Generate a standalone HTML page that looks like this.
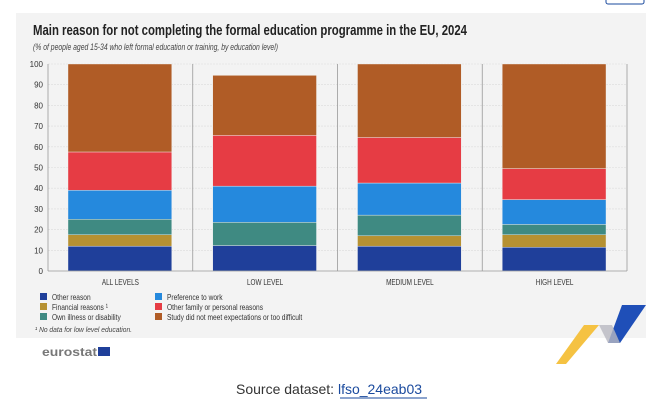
<!DOCTYPE html>
<html><head><meta charset="utf-8"><style>
body{margin:0;background:#fff;width:659px;height:419px;overflow:hidden;font-family:"Liberation Sans",sans-serif}
svg{display:block}
</style></head><body>
<svg id="chart" width="659" height="419" xmlns="http://www.w3.org/2000/svg">
<rect x="606" y="-6" width="38" height="10" rx="2" fill="none" stroke="#1a4a9e" stroke-width="1"/>
<rect x="16" y="13" width="630" height="325" fill="#f3f3f3"/>
<text x="33" y="35" font-size="15" font-weight="bold" fill="#222" textLength="434" lengthAdjust="spacingAndGlyphs">Main reason for not completing the formal education programme in the EU, 2024</text>
<text x="33" y="50" font-size="9" font-style="italic" fill="#444" textLength="245" lengthAdjust="spacingAndGlyphs">(% of people aged 15-34 who left formal education or training, by education level)</text>
<g id="grid"></g><g id="bars"></g><g id="axes"></g><g id="legend"></g>
<text x="35" y="332" font-size="7.5" font-style="italic" fill="#444" textLength="97" lengthAdjust="spacingAndGlyphs">¹ No data for low level education.</text>
<g>
<text x="42" y="356" font-size="12" font-weight="bold" fill="#777" textLength="55" lengthAdjust="spacingAndGlyphs">eurostat</text>
<rect x="98" y="347" width="12" height="9" fill="#1f3f9a"/>
</g>
<g>
<polygon points="622,305 646,305 620,343 608,343" fill="#1f4fb8"/>
<polygon points="599,325 612,325 620,343 608,343" fill="#b8b8c0" opacity="0.8"/>
<polygon points="584,325 599,325 566,364 556,364" fill="#f5c242"/>
</g>
<text x="236" y="394" font-size="14" fill="#333">Source dataset: <tspan fill="#1a4a9e">lfso_24eab03</tspan></text>
<line x1="340" y1="398" x2="427" y2="398" stroke="#1a4a9e" stroke-width="1"/>
</svg>
<script>
const categories=["ALL LEVELS","LOW LEVEL","MEDIUM LEVEL","HIGH LEVEL"];
const seriesNames=["Other reason","Financial reasons ¹","Own illness or disability","Preference to work","Other family or personal reasons","Study did not meet expectations or too difficult"];
const seriesColors=["#1f3f9a","#b69132","#3f8a82","#2589dd","#e63c44","#b05c26"];
const otherReason=[12,12.3,12,11.5];
const financial=[5.5,0,5,6];
const illness=[7.5,11.2,10,5];
const preference=[14,17.5,15.5,12];
const family=[18.5,24.5,22,15];
const study=[42.5,29,35.5,50.5];
const yTicks=[0,10,20,30,40,50,60,70,80,90,100];
const series=[otherReason,financial,illness,preference,family,study];
const NS="http://www.w3.org/2000/svg";
const x0=48,x1=627,y0=271,y1=64;
const yScale=v=>y0-(y0-y1)*v/100;
const band=(x1-x0)/categories.length;
const xBand=i=>x0+band*i;
function mk(t,a,p){const e=document.createElementNS(NS,t);for(const k in a)e.setAttribute(k,a[k]);p.appendChild(e);return e;}
const grid=document.getElementById('grid'),bars=document.getElementById('bars'),axes=document.getElementById('axes'),legend=document.getElementById('legend');
yTicks.forEach(t=>{
 const y=yScale(t);
 if(t>0){const g=mk('line',{x1:x0,x2:x1,y1:y,y2:y,stroke:'#dcdcdc','stroke-width':0.6,'stroke-dasharray':'2,1'},grid);
 
 }
 const l=mk('text',{x:43,y:y+3,'font-size':8,fill:'#333','text-anchor':'end'},axes);
 l.textContent=t;
 
 
});
categories.forEach((c,i)=>{
 const bx=xBand(i)+20,bw=band-41;
 let cum=0;
 series.forEach((s,j)=>{
  const v=s[i];if(v<=0)return;
  const r=mk('rect',{x:bx,y:yScale(cum+v),width:bw,height:yScale(cum)-yScale(cum+v),fill:seriesColors[j],stroke:'#f3f3f3','stroke-width':0.4},bars);
  
  
  cum+=v;
 });
 if(i>0){const sep=mk('line',{x1:xBand(i),x2:xBand(i),y1:y1,y2:y0,stroke:'#999','stroke-width':0.8},axes);
 
 }
 const t=mk('text',{x:xBand(i)+band/2,y:y0+14,'font-size':8,fill:'#333','text-anchor':'middle',transform:`translate(${(xBand(i)+band/2)*0.2},0) scale(0.8,1)`},axes);
 t.textContent=c;
 
 
});
const ax=mk('line',{x1:x0,x2:x1,y1:y0,y2:y0,stroke:'#999','stroke-width':0.8},axes);


const ay=mk('line',{x1:x0,x2:x0,y1:y1,y2:y0,stroke:'#999','stroke-width':0.8},axes);


const ar=mk('line',{x1:x1,x2:x1,y1:y1,y2:y0,stroke:'#999','stroke-width':0.8},axes);


seriesNames.forEach((n,j)=>{
 const col=Math.floor(j/3),row=j%3;
 const lx=col?155:40,ly=293+row*10;
 const g=mk('g',{},legend);
 
 
 mk('rect',{x:lx,y:ly,width:7,height:7,fill:seriesColors[j]},g);
 const t=mk('text',{x:lx+12,y:ly+7,'font-size':8.5,fill:'#333',transform:`translate(${(lx+12)*0.22},0) scale(0.78,1)`},g);
 t.textContent=n;
});
</script>
</body></html>
